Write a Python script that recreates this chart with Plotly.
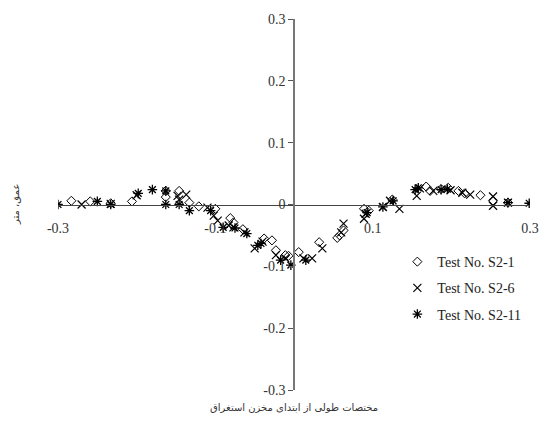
import plotly.graph_objects as go

# Longitudinal position (m) and bed depth (m) for each test
s2_1_x = [-0.283, -0.259, -0.233, -0.206, -0.163, -0.163, -0.146, -0.133, -0.121, -0.100,
          -0.081, -0.077, -0.065, -0.038, -0.028, -0.023, -0.011, -0.007, 0.006, 0.032,
          0.055, 0.058, 0.063, 0.089, 0.095, 0.125, 0.168, 0.173, 0.187, 0.196,
          0.209, 0.217, 0.237, 0.253, 0.272]
s2_1_y = [0.006, 0.005, 0.002, 0.005, 0.022, 0.012, 0.022, 0.003, -0.003, -0.007,
          -0.022, -0.029, -0.040, -0.055, -0.058, -0.074, -0.082, -0.083, -0.077, -0.061,
          -0.054, -0.050, -0.042, -0.007, -0.010, 0.008, 0.029, 0.022, 0.025, 0.027,
          0.022, 0.018, 0.015, 0.006, 0.003]

s2_6_x = [-0.270, -0.233, -0.200, -0.148, -0.146, -0.137, -0.110, -0.102, -0.097, -0.083,
          -0.077, -0.063, -0.050, -0.040, -0.023, -0.011, 0.012, 0.023, 0.036, 0.060,
          0.063, 0.089, 0.091, 0.113, 0.122, 0.134, 0.156, 0.160, 0.177, 0.199,
          0.214, 0.224, 0.253, 0.253, 0.272]
s2_6_y = [0.000, 0.001, 0.015, 0.014, 0.008, 0.016, -0.005, -0.018, -0.026, -0.034,
          -0.037, -0.045, -0.071, -0.060, -0.082, -0.087, -0.087, -0.087, -0.071, -0.045,
          -0.031, -0.023, -0.015, -0.004, 0.006, -0.007, 0.014, 0.026, 0.022, 0.023,
          0.019, 0.016, 0.013, -0.002, 0.003]

s2_11_x = [-0.300, -0.250, -0.233, -0.198, -0.180, -0.163, -0.163, -0.146, -0.133, -0.106,
           -0.090, -0.075, -0.060, -0.046, -0.042, -0.017, -0.004, 0.015, 0.093, 0.113,
           0.126, 0.154, 0.158, 0.187, 0.195, 0.272, 0.299]
s2_11_y = [0.000, 0.005, 0.000, 0.018, 0.024, 0.000, 0.022, 0.000, -0.010, -0.010,
           -0.037, -0.038, -0.047, -0.066, -0.063, -0.090, -0.098, -0.090, -0.013, -0.004,
           0.006, 0.024, 0.027, 0.024, 0.025, 0.003, 0.002]

series_names = ["Test No. S2-1", "Test No. S2-6", "Test No. S2-11"]
x_ticks = [-0.3, -0.1, 0.1, 0.3]
y_ticks = [-0.3, -0.2, -0.1, 0, 0.1, 0.2, 0.3]
x_title = "مختصات طولی از ابتدای مخزن استغراق"
y_title = "عمق، متر"

serif = "Liberation Serif, Times New Roman, serif"

fig = go.Figure()
fig.add_trace(go.Scatter(x=s2_1_x, y=s2_1_y, mode="markers", name=series_names[0],
                         legendgroup="a",
                         marker=dict(symbol="diamond-open", size=7, color="black",
                                     line=dict(width=1, color="black"))))
fig.add_trace(go.Scatter(x=s2_6_x, y=s2_6_y, mode="markers", name=series_names[1],
                         legendgroup="b",
                         marker=dict(symbol="x-thin-open", size=8, color="black",
                                     line=dict(width=1.2, color="black"))))
fig.add_trace(go.Scatter(x=s2_11_x, y=s2_11_y, mode="markers", name=series_names[2],
                         legendgroup="c",
                         marker=dict(symbol="asterisk-open", size=8, color="black",
                                     line=dict(width=1.3, color="black"))))

fig.update_layout(
    width=551, height=439,
    margin=dict(l=58, r=12, t=14, b=49),
    paper_bgcolor="white", plot_bgcolor="white",
    font=dict(family=serif, size=14, color="#222"),
    showlegend=True,
    legend=dict(x=0.719, y=0.388, xanchor="left", yanchor="top",
                bgcolor="rgba(0,0,0,0)", font=dict(family=serif, size=14, color="#222"),
                tracegroupgap=5, itemwidth=30),
    xaxis=dict(range=[-0.3, 0.3], anchor="free", position=0.5,
               showline=True, linecolor="#444", linewidth=1,
               showgrid=False, zeroline=False,
               tickvals=x_ticks, ticktext=[f"{v:g}" for v in x_ticks],
               ticks="", ticklabelstandoff=11,
               tickfont=dict(family=serif, size=14, color="#333")),
    yaxis=dict(range=[-0.3, 0.3], anchor="free", position=0.5,
               showline=True, linecolor="#777", linewidth=1.5,
               showgrid=False, zeroline=False,
               tickvals=y_ticks, ticktext=[f"{v:g}" for v in y_ticks],
               ticks="outside", ticklen=5, tickcolor="#555",
               tickfont=dict(family=serif, size=14, color="#333")),
    annotations=[
        dict(text=x_title, xref="paper", yref="paper", x=0.5, y=-0.027,
             xanchor="center", yanchor="top", showarrow=False,
             font=dict(family="DejaVu Sans", size=10, color="#333")),
        dict(text=y_title, xref="paper", yref="paper", x=-0.09, y=0.5,
             xanchor="center", yanchor="middle", showarrow=False, textangle=-90,
             font=dict(family="DejaVu Sans", size=10, color="#333")),
    ],
)

fig.write_html("out.html")
